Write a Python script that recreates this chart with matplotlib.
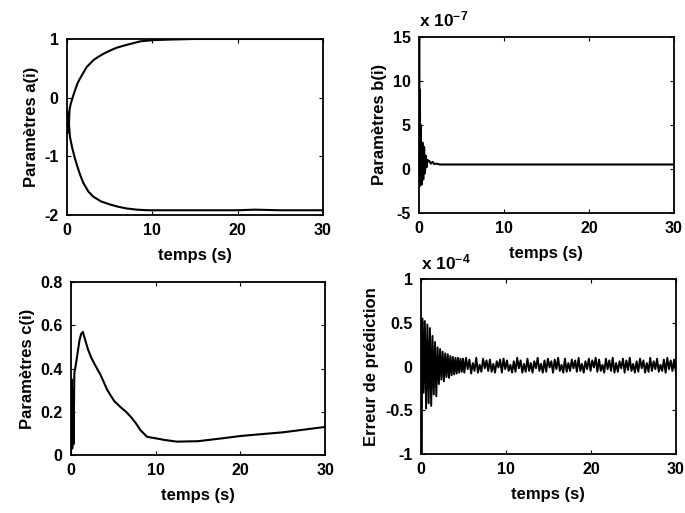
import numpy as np
import matplotlib
matplotlib.use("Agg")
import matplotlib.pyplot as plt

plt.rcParams['font.family'] = ['Liberation Sans', 'DejaVu Sans']
plt.rcParams['font.weight'] = 'bold'
plt.rcParams['axes.labelweight'] = 'bold'
plt.rcParams['axes.unicode_minus'] = False
plt.rcParams['mathtext.fontset'] = 'custom'
plt.rcParams['mathtext.rm'] = 'Liberation Sans'
plt.rcParams['mathtext.it'] = 'Liberation Sans'

# a(i) parameters
a1_t = [0, 0.1, 0.2, 0.3, 0.45, 0.7, 0.95, 1.25, 1.5, 1.9, 2.3, 2.7, 3.1, 3.6,
        4.3, 5.0, 5.8, 7.0, 7.8, 8.6, 10, 12, 15, 20, 25, 30]
a1_v = [-0.6, -0.25, -0.55, -0.2, -0.1, 0.02, 0.13, 0.25, 0.32, 0.42, 0.52,
        0.58, 0.64, 0.69, 0.75, 0.8, 0.85, 0.9, 0.93, 0.96, 0.98, 0.99, 1.0,
        1.0, 1.0, 1.0]
a2_t = [0, 0.1, 0.2, 0.35, 0.6, 0.9, 1.1, 1.5, 1.9, 2.5, 3.1, 4.0, 5.0, 6.0,
        7.0, 8.2, 9.5, 12, 15, 20, 22, 25, 30]
a2_v = [-0.35, -0.6, -0.4, -0.67, -0.85, -1.02, -1.12, -1.3, -1.45, -1.6,
        -1.69, -1.77, -1.82, -1.86, -1.89, -1.91, -1.92, -1.92, -1.92, -1.92,
        -1.91, -1.92, -1.92]

# b(i) parameters (x 1e-7)
b_t = [0, 0.02, 0.05, 0.1, 0.15, 0.2, 0.3, 0.4, 0.5, 0.6, 0.7, 0.8, 0.9, 1.0,
       1.2, 1.4, 1.6, 1.8, 2.0, 2.5, 3.0, 10, 20, 30]
b_v = [0, 15, -2, 9, -1.5, 5, -1.8, 3, -1.2, 2.5, -0.5, 1.5, 0.2, 1.0, 0.9,
       0.6, 0.8, 0.55, 0.6, 0.5, 0.5, 0.5, 0.5, 0.5]

# c(i) parameters
c_t = [0, 0.1, 0.15, 0.2, 0.3, 0.4, 0.5, 0.7, 1.0, 1.2, 1.4, 1.7, 2.0, 2.4,
       2.8, 3.5, 4.3, 5.1, 5.9, 6.5, 7.1, 7.7, 8.2, 9.0, 10.2, 11, 12.5, 15,
       18, 20, 22, 25, 28, 30]
c_v = [0, 0.35, 0.03, 0.3, 0.05, 0.38, 0.4, 0.45, 0.53, 0.56, 0.57, 0.53,
       0.49, 0.45, 0.42, 0.37, 0.3, 0.25, 0.22, 0.2, 0.175, 0.145, 0.115,
       0.084, 0.076, 0.07, 0.062, 0.064, 0.078, 0.088, 0.095, 0.105, 0.12, 0.13]

# prediction error (x 1e-4): transient extrema then steady noise
err_t = [0, 0.05, 0.15, 0.3, 0.45, 0.6, 0.75, 0.9, 1.05, 1.2, 1.35, 1.5, 1.65,
         1.8, 1.95, 2.1, 2.25, 2.4, 2.55, 2.7, 2.85, 3.0, 3.15, 3.3, 3.45,
         3.6, 3.75, 3.9, 4.05, 4.2, 4.35, 4.5, 4.65, 4.8, 4.95]
err_v = [0, -1.3, 0.55, -0.3, 0.52, -0.48, 0.48, -0.42, 0.44, -0.45, 0.35,
         -0.32, 0.28, -0.34, 0.22, -0.2, 0.2, -0.15, 0.17, -0.17, 0.15, -0.12,
         0.14, -0.13, 0.12, -0.1, 0.11, -0.09, 0.1, -0.08, 0.1, -0.07, 0.09,
         -0.06, 0.09]
err_late = [-0.07, 0.1, -0.03, 0.08, -0.08, 0.04, -0.05, 0.1, -0.07, 0.02,
            -0.06, 0.09, -0.02, 0.07, -0.05, 0.08, -0.06, 0.03, -0.07, 0.06,
            -0.01, 0.08, -0.07, 0.09, -0.03, 0.07, -0.05, 0.02, -0.07, 0.06,
            -0.06, 0.1, -0.02, 0.07, -0.07, 0.03, -0.06, 0.09, -0.05, 0.04,
            -0.07, 0.06, -0.02, 0.1, -0.05, 0.03, -0.07, 0.07, -0.06, 0.09,
            -0.01, 0.06, -0.07, 0.08, -0.03, 0.1, -0.05, 0.02, -0.07, 0.09,
            -0.06, 0.04, -0.05, 0.08, -0.02, 0.07, -0.06, 0.1, -0.05, 0.03,
            -0.07, 0.06, -0.03, 0.09, -0.05, 0.07, -0.01, 0.1, -0.06, 0.08,
            -0.05, 0.02, -0.07, 0.09, -0.03, 0.07, -0.05, 0.1, -0.07, 0.04,
            -0.06, 0.06, -0.02, 0.09, -0.07, 0.07, -0.04, 0.1, -0.05, 0.03,
            -0.07, 0.06, -0.06, 0.09, -0.02, 0.07, -0.07, 0.04, -0.06, 0.1,
            -0.05, 0.06, -0.03, 0.09, -0.06, 0.02, -0.05, 0.08, -0.07, 0.1,
            -0.03, 0.07, -0.05, 0.08, -0.06]
err_late_t = np.linspace(5.1, 30, len(err_late))

fig = plt.figure(figsize=(6.85, 5.13), dpi=100)
ax1 = fig.add_axes([0.0978, 0.581, 0.3737, 0.343])
ax2 = fig.add_axes([0.6117, 0.585, 0.372, 0.343])
ax3 = fig.add_axes([0.1036, 0.113, 0.371, 0.337])
ax4 = fig.add_axes([0.6146, 0.115, 0.372, 0.341])

lw = 1.5
ax1.plot(a1_t, a1_v, color='k', lw=lw)
ax1.plot(a2_t, a2_v, color='k', lw=lw)
ax1.set_ylim(-2, 1)
ax1.set_yticks([-2, -1, 0, 1])
ax1.set_ylabel('Paramètres a(i)')

ax2.plot(b_t, b_v, color='k', lw=lw)
ax2.set_ylim(-5, 15)
ax2.set_yticks([-5, 0, 5, 10, 15])
ax2.set_ylabel('Paramètres b(i)')
ax2.text(0, 1.04, r'x 10$^{-7}$', transform=ax2.transAxes, fontsize=12.5,
         va='bottom', ha='left')

ax3.plot(c_t, c_v, color='k', lw=lw)
ax3.set_ylim(0, 0.8)
ax3.set_yticks([0, 0.2, 0.4, 0.6, 0.8])
ax3.set_yticklabels(['0', '0.2', '0.4', '0.6', '0.8'])
ax3.set_ylabel('Paramètres c(i)')

ax4.plot(list(err_t) + list(err_late_t), err_v + err_late, color='k', lw=1.4)
ax4.set_ylim(-1, 1)
ax4.set_yticks([-1, -0.5, 0, 0.5, 1])
ax4.set_yticklabels(['-1', '-0.5', '0', '0.5', '1'])
ax4.set_ylabel('Erreur de prédiction')
ax4.text(0, 1.04, r'x 10$^{-4}$', transform=ax4.transAxes, fontsize=12.5,
         va='bottom', ha='left')

for ax in (ax1, ax2, ax3, ax4):
    ax.set_xlim(0, 30)
    ax.set_xticks([0, 10, 20, 30])
    ax.set_xlabel('temps (s)', fontsize=12, labelpad=7)
    ax.yaxis.label.set_size(12)
    ax.tick_params(direction='in', top=True, right=True, labelsize=11.5,
                   length=3, width=0.8, pad=6)
    for s in ax.spines.values():
        s.set_linewidth(1.3)

fig.savefig('out.png', dpi=100)
